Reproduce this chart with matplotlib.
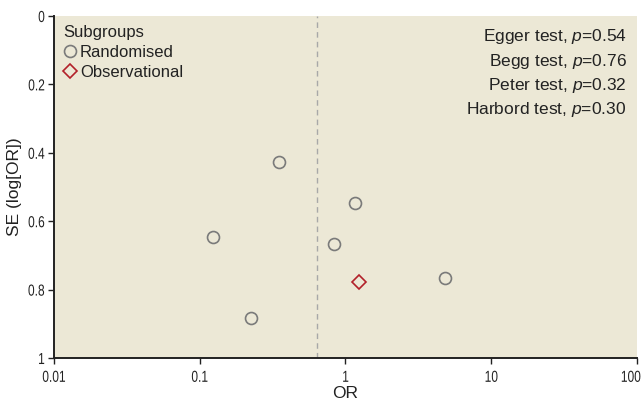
import numpy as np
import matplotlib.pyplot as plt
from matplotlib.ticker import FixedLocator, NullLocator
from matplotlib.patheffects import AbstractPathEffect
from matplotlib.transforms import Affine2D, ScaledTranslation

# funnel plot data
rand_or = [0.35, 0.123, 0.224, 1.16, 0.838, 4.84]
rand_se = [0.427, 0.645, 0.883, 0.546, 0.667, 0.766]
obs_or = [1.24]
obs_se = [0.778]
pooled_or = 0.634

x_ticks = [0.01, 0.1, 1, 10, 100]
x_labels = ["0.01", "0.1", "1", "10", "100"]
y_ticks = [0, 0.2, 0.4, 0.6, 0.8, 1]
y_labels = ["0", "0.2", "0.4", "0.6", "0.8", "1"]
tests = ["Egger test, $p$=0.54", "Begg test, $p$=0.76",
         "Peter test, $p$=0.32", "Harbord test, $p$=0.30"]

INK = "#222222"


class Squeeze(AbstractPathEffect):
    """narrow a text horizontally (no condensed font installed)"""

    def __init__(self, sx=0.8, anchor="center"):
        super().__init__()
        self.sx, self.anchor = sx, anchor

    def draw_path(self, renderer, gc, tpath, affine, rgbFace=None):
        bb = tpath.get_extents(affine)
        x0 = {"center": (bb.x0 + bb.x1) / 2, "right": bb.x1, "left": bb.x0}[self.anchor]
        sq = Affine2D().translate(-x0, 0).scale(self.sx, 1).translate(x0, 0)
        renderer.draw_path(gc, tpath, affine + sq, rgbFace)


plt.rcParams["font.family"] = ["Liberation Sans", "DejaVu Sans"]
plt.rcParams["mathtext.fontset"] = "custom"
plt.rcParams["mathtext.it"] = "Liberation Sans:italic"
plt.rcParams["mathtext.rm"] = "Liberation Sans"

fig = plt.figure(figsize=(6.42, 4.05), dpi=100)
ax = fig.add_axes([0.0841, 0.116, 0.9081, 0.8445])
ax.set_facecolor("#ECE8D6")

ax.axvline(pooled_or, color="#A8A8A8", ls=(0, (4, 3)), lw=1)
ax.plot(rand_or, rand_se, "o", ms=8.6, mfc="none", mec="#7A7A7A", mew=1.2,
        ls="none", label="Randomised")
ax.plot(obs_or, obs_se, "D", ms=7.5, mfc="none", mec="#B2202A", mew=1.2,
        ls="none", label="Observational")

ax.set_xscale("log")
ax.set_xlim(0.01, 100)
ax.set_ylim(1, 0)
ax.xaxis.set_major_locator(FixedLocator(x_ticks))
ax.xaxis.set_minor_locator(NullLocator())
ax.set_xticklabels(x_labels)
ax.set_yticks(y_ticks)
ax.set_yticklabels(y_labels)
ax.tick_params(direction="out", length=4, width=1, color=INK, labelsize=11.5,
               labelcolor=INK)
ax.tick_params(axis="x", pad=4.5)
ax.tick_params(axis="y", pad=2.5)
for lab in ax.get_xticklabels():
    lab.set_path_effects([Squeeze(0.75, "center")])
for lab in ax.get_yticklabels():
    lab.set_path_effects([Squeeze(0.75, "right")])
# last x label sits on the figure edge: keep it inside
last = ax.get_xticklabels()[-1]
last.set_horizontalalignment("right")
last.set_transform(last.get_transform() + ScaledTranslation(4 / 100, 0, fig.dpi_scale_trans))
last.set_path_effects([Squeeze(0.75, "right")])

ax.spines[["top", "right"]].set_visible(False)
for s in ["left", "bottom"]:
    ax.spines[s].set_linewidth(1.4)
    ax.spines[s].set_color(INK)

ax.set_xlabel("OR", fontsize=12.5, color=INK, labelpad=1)
ax.set_ylabel("SE (log[OR])", fontsize=12.5, color=INK, labelpad=0.5)

leg = ax.legend(loc="upper left", title="Subgroups", frameon=False,
                fontsize=12, title_fontsize=12, handlelength=0.8,
                handletextpad=0.2, borderaxespad=0.3, labelspacing=0.3,
                alignment="left", borderpad=0.25)
for t in leg.get_texts():
    t.set_color(INK)
leg.get_title().set_color(INK)

ax.text(0.982, 0.967, "\n".join(tests), transform=ax.transAxes, ha="right",
        va="top", fontsize=12.5, color=INK, linespacing=1.38)

fig.savefig("out.png", dpi=100)
